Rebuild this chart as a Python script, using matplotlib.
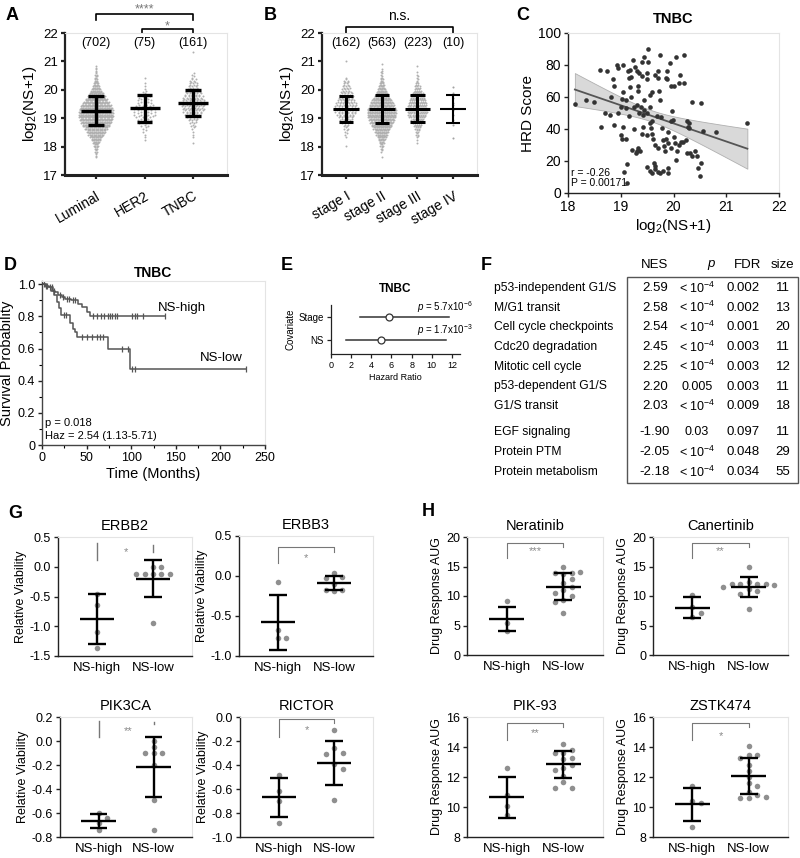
import numpy as np
import matplotlib
matplotlib.use('Agg')
import matplotlib.pyplot as plt
from matplotlib.patches import Rectangle

plt.rcParams['font.family'] = ['Liberation Sans', 'DejaVu Sans']
plt.rcParams['mathtext.fontset'] = 'custom'
plt.rcParams['mathtext.rm'] = 'Liberation Sans'
plt.rcParams['mathtext.it'] = 'Liberation Sans:italic'

# ---------------- data ----------------
# A: log2(NS+1) by subtype, counts per 0.1 bin starting at *_lo
subtypes = ['Luminal', 'HER2', 'TNBC']
subtype_n = [702, 75, 161]
subtype_lo = [17.65, 18.25, 18.15]
subtype_counts = [
    [2, 2, 3, 5, 7, 10, 14, 18, 24, 28, 34, 40, 44, 48, 50, 50, 50, 48, 44, 38,
     32, 26, 22, 17, 13, 9, 7, 5, 4, 3, 2, 2, 1],
    [1, 1, 1, 2, 2, 3, 4, 5, 6, 7, 7, 7, 6, 5, 5, 4, 3, 2, 1, 1, 1, 0, 1],
    [1, 0, 1, 1, 1, 2, 3, 4, 6, 8, 10, 12, 13, 14, 14, 13, 12, 10, 9, 7, 6, 5, 4,
     2, 2, 0, 0, 0, 0, 0, 0, 0, 1],
]
subtype_mean = [19.27, 19.35, 19.52]
subtype_sd = [0.50, 0.47, 0.46]

# B: by stage
stages = ['stage I', 'stage II', 'stage III', 'stage IV']
stage_n = [162, 563, 223, 10]
stage_lo = [18.05, 17.65, 18.15]
stage_counts = [
    [1, 0, 0, 1, 2, 2, 3, 4, 6, 8, 10, 12, 14, 16, 14, 13, 11, 10, 8, 7, 6, 5, 4,
     3, 1, 0, 0, 0, 0, 0, 1],
    [1, 0, 2, 3, 5, 7, 10, 13, 17, 21, 26, 30, 34, 37, 41, 42, 42, 41, 36, 33, 29,
     23, 18, 14, 11, 8, 6, 4, 3, 2, 2, 1, 0, 1],
    [1, 1, 2, 3, 4, 6, 8, 10, 12, 16, 18, 19, 19, 18, 17, 15, 13, 12, 8, 6, 5, 3,
     2, 2, 1, 1, 0, 1],
]
stage4_values = [20.1, 19.9, 19.7, 19.55, 19.45, 19.3, 19.1, 18.95, 18.75, 18.3]
stage_mean = [19.33, 19.32, 19.34, 19.33]
stage_sd = [0.46, 0.50, 0.48, 0.49]

# C: HRD score vs log2(NS+1) in TNBC
hrd_points = [
    (18.13, 55.6), (18.35, 58), (18.49, 57), (18.63, 41.5), (18.61, 77), (18.74, 76),
    (18.70, 50), (18.80, 49), (18.85, 71), (18.88, 67), (18.88, 42.5), (18.92, 80),
    (18.82, 60), (19.00, 36), (19.03, 34), (19.04, 80), (19.04, 63), (19.03, 58.5),
    (19.10, 58), (19.14, 76), (19.10, 33.6), (19.07, 13), (19.12, 18), (19.11, 6),
    (19.17, 77), (19.20, 72.6), (19.17, 66), (19.23, 83), (19.25, 54), (19.27, 79),
    (19.30, 76), (19.33, 67), (19.32, 64), (19.33, 28), (19.36, 26), (19.39, 53.5),
    (19.42, 49), (19.43, 41), (19.49, 74.7), (19.52, 82), (19.45, 58), (19.52, 90),
    (19.56, 53.5), (19.58, 40.5), (19.60, 37), (19.61, 33.6), (19.63, 18.7), (19.64, 15),
    (19.60, 12.5), (19.71, 71.6), (19.73, 64), (19.74, 86), (19.74, 58), (19.77, 47.7),
    (19.79, 40.5), (19.80, 33), (19.82, 29.5), (19.84, 26), (19.87, 76.5), (19.88, 71),
    (19.90, 15.5), (19.90, 12.5), (19.93, 81), (19.96, 67), (19.98, 51), (19.99, 45.6),
    (20.00, 35), (20.03, 31), (20.05, 20.7), (20.07, 26), (20.10, 69), (20.13, 73.7),
    (20.20, 86), (20.18, 32), (20.23, 33), (20.26, 25), (20.30, 40.5), (20.30, 43.6),
    (20.40, 26), (20.44, 23), (20.47, 15.5), (20.50, 10.4), (20.36, 57), (20.52, 56),
    (20.55, 38.8), (20.53, 18.7), (20.80, 38), (21.40, 44),
    (19.25, 40), (19.30, 26), (19.22, 27), (19.28, 25), (19.35, 50), (19.45, 52),
    (19.50, 50), (19.55, 44), (19.50, 36), (19.50, 16), (19.55, 14), (19.65, 17),
    (19.70, 13), (19.75, 12.5), (19.80, 14), (19.65, 30), (19.70, 28), (19.40, 37),
    (19.60, 45), (19.68, 48), (19.85, 34), (19.90, 31), (19.95, 28), (20.10, 30),
    (20.15, 32), (19.85, 72), (19.70, 76), (19.65, 74), (19.50, 71), (19.40, 73),
    (19.35, 75), (19.15, 72), (19.20, 60), (19.10, 53), (19.00, 54), (18.95, 50),
    (19.30, 55), (19.55, 61), (19.60, 63), (20.05, 85), (20.20, 69), (20.00, 67),
    (20.25, 45), (20.27, 41), (20.32, 25), (20.35, 23), (19.95, 45), (19.90, 38),
    (18.95, 78), (19.05, 41), (19.15, 48), (19.40, 82), (19.45, 85),
]

# D: Kaplan-Meier, TNBC
high_t = [3, 8, 12, 15, 18, 22, 26, 33, 40, 45, 50, 54]
high_s = [0.99, 0.98, 0.96, 0.95, 0.93, 0.92, 0.91, 0.90, 0.88, 0.86, 0.83, 0.80]
high_cens = [2, 4, 6, 9, 11, 14, 20, 24, 28, 30, 35, 37, 57.5, 61.4, 65.8, 69.5, 74.3,
             76.2, 78.8, 81.8, 84.4, 100.6, 104.3, 106.8, 113.5, 138]
low_t = [5, 10, 14, 17, 19, 21, 31, 35, 37, 39, 74, 99]
low_s = [0.98, 0.96, 0.93, 0.89, 0.85, 0.81, 0.76, 0.72, 0.70, 0.67, 0.60, 0.47]
low_cens = [25, 27, 44.5, 50.8, 55.7, 61.3, 65, 68, 89.3, 96.8, 100.5, 104.3, 229]

# E: Cox model
covariates = ['Stage', 'NS']
hr = [5.8, 5.0]
hr_lo = [2.9, 1.5]
hr_hi = [11.7, 11.4]
hr_p = [r'$p$ = 5.7x10$^{-6}$', r'$p$ = 1.7x10$^{-3}$']

# F: GSEA table
pathways = ['p53-independent G1/S', 'M/G1 transit', 'Cell cycle checkpoints',
            'Cdc20 degradation', 'Mitotic cell cycle', 'p53-dependent G1/S',
            'G1/S transit', 'EGF signaling', 'Protein PTM', 'Protein metabolism']
nes = ['2.59', '2.58', '2.54', '2.45', '2.25', '2.20', '2.03', '-1.90', '-2.05', '-2.18']
pval = ['< 10$^{-4}$'] * 5 + ['0.005', '< 10$^{-4}$', '0.03', '< 10$^{-4}$', '< 10$^{-4}$']
fdr = ['0.002', '0.002', '0.001', '0.003', '0.003', '0.003', '0.009', '0.097', '0.048', '0.034']
gsize = ['11', '13', '20', '11', '12', '11', '18', '11', '29', '55']

# G: relative viability (NS-high, NS-low)
groups = ['NS-high', 'NS-low']
erbb2 = ([-0.45, -0.65, -1.10, -1.37], [0.0, -0.01, -0.12, -0.12, -0.12, -0.12, -0.12, -0.95])
erbb3 = ([-0.08, -0.68, -0.77, -0.77], [0.04, -0.01, -0.02, -0.10, -0.17, -0.19, -0.17])
pik3ca = ([-0.60, -0.64, -0.68, -0.74], [0.0, -0.05, -0.10, -0.10, -0.10, -0.20, -0.49, -0.74])
rictor = ([-0.48, -0.62, -0.70, -0.88], [-0.11, -0.26, -0.30, -0.31, -0.39, -0.43, -0.69])
g_mean = {'ERBB2': (-0.88, -0.20), 'ERBB3': (-0.58, -0.09),
          'PIK3CA': (-0.665, -0.22), 'RICTOR': (-0.67, -0.385)}
g_sd = {'ERBB2': (0.42, 0.31), 'ERBB3': (0.34, 0.09),
        'PIK3CA': (0.06, 0.25), 'RICTOR': (0.165, 0.185)}

# H: drug response AUG
neratinib = ([9.2, 5.4, 4.0], [14.9, 13.9, 13.8, 13.9, 14.0, 12.8, 12.2, 11.5, 11.0, 10.5,
                              10.0, 9.3, 9.0, 7.2])
canertinib = ([10.2, 8.1, 7.2, 6.5], [15.0, 12.3, 12.1, 12.0, 12.0, 12.1, 11.9, 11.5, 11.2,
                                      10.8, 10.3, 7.8])
pik93 = ([12.6, 10.8, 10.1, 9.5], [14.2, 13.8, 13.6, 13.6, 13.3, 13.2, 12.8, 12.6, 12.5,
                                   12.1, 11.7, 11.3, 11.3])
zstk474 = ([11.4, 10.4, 10.3, 8.7], [14.1, 13.5, 13.5, 13.3, 12.8, 12.4, 12.0, 11.6, 11.4,
                                     11.0, 10.8, 10.6, 10.6, 10.7])
h_mean = {'Neratinib': (6.1, 11.6), 'Canertinib': (8.0, 11.55),
          'PIK-93': (10.65, 12.85), 'ZSTK474': (10.2, 12.1)}
h_sd = {'Neratinib': (2.1, 2.3), 'Canertinib': (1.8, 1.75),
        'PIK-93': (1.35, 0.9), 'ZSTK474': (1.1, 1.2)}

# ---------------- figure ----------------
W, H = 800, 858
fig = plt.figure(figsize=(8, 8.58), dpi=100)


def px_axes(l, t, r, b):
    return fig.add_axes([l / W, 1 - b / H, (r - l) / W, (b - t) / H])


def ftext(x, y, s, **kw):
    fig.text(x / W, 1 - y / H, s, **kw)


def style(ax, lw=1.2, fs=9):
    for s in ('top', 'right'):
        ax.spines[s].set_color('#e4e4e4')
        ax.spines[s].set_linewidth(0.8)
    for s in ('left', 'bottom'):
        ax.spines[s].set_color('#222222')
        ax.spines[s].set_linewidth(lw)
    ax.tick_params(labelsize=fs, length=3, width=lw, color='#222222', pad=2)


def crossbar(ax, x, m, sd, hw, cw, lw):
    kw = dict(color='black', lw=lw, solid_capstyle='butt', zorder=5)
    ax.plot([x - hw, x + hw], [m, m], **kw)
    ax.plot([x, x], [m - sd, m + sd], **kw)
    for yy in (m - sd, m + sd):
        ax.plot([x - cw, x + cw], [yy, yy], **kw)


def bin_swarm(ax, xc, lo, counts, dx):
    xs, ys = [], []
    for k, n in enumerate(counts):
        yc = lo + 0.1 * k
        for i in range(n):
            xs.append(xc + (i - (n - 1) / 2) * dx)
            ys.append(yc + (0.025 if i % 2 else -0.025))
    ax.scatter(xs, ys, s=2.0, color='#b0b0b0', linewidths=0, zorder=2)


def swarm_x(vals, center, dy, dx):
    placed, xs = [], []
    for v in vals:
        k = 0
        while True:
            off = 0 if k == 0 else ((k + 1) // 2) * dx * (1 if k % 2 else -1)
            if all(abs(v - pv) >= dy or abs(off - po) >= dx * 0.99 for pv, po in placed):
                break
            k += 1
        placed.append((v, off))
        xs.append(center + off)
    return xs


# ---- A ----
axA = px_axes(65, 33, 227, 175)
style(axA, lw=1.6, fs=9.5)
axA.spines['bottom'].set_linewidth(2.2)
for i in range(3):
    bin_swarm(axA, i, subtype_lo[i], subtype_counts[i], [0.014, 0.07, 0.036][i])
    crossbar(axA, i, subtype_mean[i], subtype_sd[i], 0.31, 0.16, 2.4)
    axA.text(i, 21.65, f'({subtype_n[i]})', ha='center', va='center', fontsize=9)
axA.set_xlim(-0.64, 2.7)
axA.set_ylim(17, 22)
axA.set_yticks(range(17, 23))
axA.set_xticks(range(3))
axA.set_xticklabels(subtypes, rotation=30, ha='right', rotation_mode='anchor', fontsize=10)
axA.tick_params(axis='x', pad=7)
axA.set_ylabel(r'log$_2$(NS+1)', fontsize=11, labelpad=3)
axA.plot([0, 0, 2, 2], [22.46, 22.67, 22.67, 22.46], color='black', lw=1.2, clip_on=False)
axA.plot([0.95, 0.95, 2, 2], [22.0, 22.14, 22.14, 22.0], color='black', lw=1.2, clip_on=False)
axA.text(1, 22.82, '****', ha='center', va='center', fontsize=9, color='#777777')
axA.text(1.47, 22.22, '*', ha='center', va='center', fontsize=9, color='#777777')

# ---- B ----
axB = px_axes(322, 33, 477, 175)
style(axB, lw=1.6, fs=9.5)
axB.spines['bottom'].set_linewidth(2.2)
for i in range(3):
    bin_swarm(axB, i, stage_lo[i], stage_counts[i], [0.045, 0.019, 0.03][i])
axB.scatter([3] * len(stage4_values), stage4_values, s=2.2, color='#a3a3a3', linewidths=0)
for i in range(4):
    crossbar(axB, i, stage_mean[i], stage_sd[i], 0.36, 0.2, 2.2 if i < 3 else 1.5)
    axB.text(i, 21.65, f'({stage_n[i]})', ha='center', va='center', fontsize=9)
axB.set_xlim(-0.67, 3.67)
axB.set_ylim(17, 22)
axB.set_yticks(range(17, 23))
axB.set_xticks(range(4))
axB.set_xticklabels(stages, rotation=30, ha='right', rotation_mode='anchor', fontsize=10)
axB.tick_params(axis='x', pad=7)
axB.set_ylabel(r'log$_2$(NS+1)', fontsize=11, labelpad=3)
axB.plot([0, 0, 3, 3], [22.0, 22.21, 22.21, 22.0], color='black', lw=1.2, clip_on=False)
axB.text(1.5, 22.6, 'n.s.', ha='center', va='center', fontsize=10)

# ---- C ----
axC = px_axes(568, 33, 779, 193)
style(axC, lw=1.0, fs=10)
hx, hy = np.array(hrd_points).T
slope, icpt = np.polyfit(hx, hy, 1)
n = len(hx)
res = hy - (slope * hx + icpt)
s_res = np.sqrt(np.sum(res ** 2) / (n - 2))
gx = np.linspace(hx.min(), hx.max(), 100)
gfit = slope * gx + icpt
se = s_res * np.sqrt(1 / n + (gx - hx.mean()) ** 2 / np.sum((hx - hx.mean()) ** 2))
axC.fill_between(gx, gfit - 1.98 * se, gfit + 1.98 * se, facecolor='#d9d9d9',
                 edgecolor='#b0b0b0', lw=0.6, zorder=1)
axC.plot(gx, gfit, color='#555555', lw=1.3, zorder=2)
axC.scatter(hx, hy, s=11, color='#333333', linewidths=0, zorder=3)
axC.set_xlim(18, 22)
axC.set_ylim(0, 100)
axC.set_xticks(range(18, 23))
axC.set_yticks(range(0, 101, 20))
axC.set_title('TNBC', fontsize=10.5, fontweight='bold', pad=7)
axC.set_xlabel(r'log$_2$(NS+1)', fontsize=11, labelpad=2)
axC.set_ylabel('HRD Score', fontsize=11, labelpad=2)
axC.text(18.05, 12.5, 'r = -0.26', fontsize=7.5, va='center')
axC.text(18.05, 6.3, 'P = 0.00171', fontsize=7.5, va='center')

# ---- D ----
axD = px_axes(42, 281, 265, 445)
style(axD, lw=1.0, fs=9)
for s in ('left', 'bottom'):
    axD.spines[s].set_color('#444444')


def km_line(t, s, end):
    axD.step(np.r_[0, t, end], np.r_[1.0, s, s[-1]], where='post', color='#555555', lw=1.1)


def km_cens(t, s, cens):
    vals = np.r_[1.0, s][np.searchsorted(t, cens, side='right')]
    axD.plot(cens, vals, ls='none', marker='|', ms=5, mew=0.9, color='#555555')


km_line(high_t, high_s, high_cens[-1])
km_line(low_t, low_s, low_cens[-1])
km_cens(high_t, high_s, high_cens)
km_cens(low_t, low_s, low_cens)
axD.set_xlim(0, 250)
axD.set_ylim(0, 1.02)
axD.set_xticks(range(0, 251, 50))
axD.set_xticks(range(25, 250, 50), minor=True)
axD.set_yticks([0, 0.2, 0.4, 0.6, 0.8, 1.0])
axD.set_yticklabels(['0', '0.2', '0.4', '0.6', '0.8', '1.0'])
axD.set_yticks(np.arange(0.1, 1.0, 0.2), minor=True)
axD.tick_params(which='minor', length=2, width=0.8)
axD.set_title('TNBC', fontsize=10, fontweight='bold', pad=3)
axD.set_xlabel('Time (Months)', fontsize=10.5, labelpad=2)
axD.set_ylabel('Survival Probability', fontsize=10.5, labelpad=3)
axD.text(130, 0.855, 'NS-high', fontsize=9.5, va='center')
axD.text(177, 0.54, 'NS-low', fontsize=9.5, va='center')
axD.text(3, 0.137, 'p = 0.018', fontsize=8, va='center')
axD.text(3, 0.056, 'Haz = 2.54 (1.13-5.71)', fontsize=8, va='center')

# ---- E ----
axE = px_axes(331, 305, 460, 354)
style(axE, lw=0.9, fs=6.5)
axE.spines['top'].set_visible(False)
axE.spines['right'].set_visible(False)
for i, name in enumerate(covariates):
    yy = 1 - i
    axE.plot([hr_lo[i], hr_hi[i]], [yy, yy], color='#333333', lw=1.1)
    axE.plot(hr[i], yy, 'o', mfc='white', mec='#333333', ms=5, mew=0.9)
    axE.text(8.5, yy + 0.42, hr_p[i], fontsize=7, va='center')
axE.set_xlim(0, 12.8)
axE.set_ylim(-0.6, 1.5)
axE.set_xticks(range(0, 13, 2))
axE.set_yticks([1, 0])
axE.set_yticklabels(covariates, fontsize=7)
axE.set_title('TNBC', fontsize=8.5, fontweight='bold', pad=9)
axE.set_xlabel('Hazard Ratio', fontsize=6.5, labelpad=2)
axE.set_ylabel('Covariate', fontsize=7, labelpad=2)

# ---- F ----
ftext(655, 265, 'NES', ha='center', va='center', fontsize=9.5)
ftext(712, 265, r'$p$', ha='center', va='center', fontsize=9.5)
ftext(748, 265, 'FDR', ha='center', va='center', fontsize=9.5)
ftext(782, 265, 'size', ha='center', va='center', fontsize=9.5)
row_y = [288 + 19.7 * i for i in range(7)] + [432 + 20 * j for j in range(3)]
for i, name in enumerate(pathways):
    y = row_y[i]
    ftext(494, y, name, ha='left', va='center', fontsize=8.7)
    ftext(655, y, nes[i], ha='center', va='center', fontsize=9.5)
    ftext(697, y, pval[i], ha='center', va='center', fontsize=9)
    ftext(743, y, fdr[i], ha='center', va='center', fontsize=9.5)
    ftext(783, y, gsize[i], ha='center', va='center', fontsize=9.5)
fig.add_artist(Rectangle((627 / W, 1 - 483 / H), 171 / W, 206 / H, transform=fig.transFigure,
                         fill=False, edgecolor='#555555', lw=1.0))

# ---- G / H ----
panels = [
    ('ERBB2', erbb2, g_mean, g_sd, (58, 537, 192, 656), (-1.5, 0.5), [0.5, 0.0, -0.5, -1.0, -1.5],
     '{:.1f}', 'Relative Viability', ('broken', 0.40, 0.11, 0.37, 0.25, 0.52, 0.24, '*')),
    ('ERBB3', erbb3, g_mean, g_sd, (239, 536, 373, 656), (-1.0, 0.5), [0.5, 0.0, -0.5, -1.0],
     '{:.1f}', 'Relative Viability', ('full', 0.36, 0.16, 0.30, None, 0.5, 0.23, '*')),
    ('PIK3CA', pik3ca, g_mean, g_sd, (60, 717, 192, 837), (-0.8, 0.2),
     [0.2, 0.0, -0.2, -0.4, -0.6, -0.8], '{:.1f}', 'Relative Viability',
     ('broken', 0.17, 0.03, 0.16, 0.14, 0.54, 0.085, '**')),
    ('RICTOR', rictor, g_mean, g_sd, (240, 717, 373, 837), (-1.0, 0.0),
     [0.0, -0.2, -0.4, -0.6, -0.8, -1.0], '{:.1f}', 'Relative Viability',
     ('full', -0.02, -0.17, -0.05, None, 0.5, -0.105, '*')),
    ('Neratinib', neratinib, h_mean, h_sd, (467, 537, 603, 655), (0, 20), [0, 5, 10, 15, 20],
     '{:.0f}', 'Drug Response AUG', ('full', 19.0, 16.4, 18.3, None, 0.5, 17.6, '***')),
    ('Canertinib', canertinib, h_mean, h_sd, (653, 537, 788, 655), (0, 20), [0, 5, 10, 15, 20],
     '{:.0f}', 'Drug Response AUG', ('full', 19.0, 16.4, 18.3, None, 0.5, 17.6, '**')),
    ('PIK-93', pik93, h_mean, h_sd, (467, 717, 603, 837), (8, 16), [8, 10, 12, 14, 16],
     '{:.0f}', 'Drug Response AUG', ('full', 15.6, 14.47, 15.33, None, 0.5, 14.93, '**')),
    ('ZSTK474', zstk474, h_mean, h_sd, (653, 717, 788, 837), (8, 16), [8, 10, 12, 14, 16],
     '{:.0f}', 'Drug Response AUG', ('full', 15.6, 14.5, 15.33, None, 0.5, 14.75, '*')),
]

for title, data, means, sds, (l, t, r_, b), ylim, ticks, fmt, ylab, br in panels:
    ax = px_axes(l, t, r_, b)
    style(ax, lw=1.0, fs=9)
    ppu = (b - t) / (ylim[1] - ylim[0])
    for gi, vals in enumerate(data):
        xs = swarm_x(vals, gi, 6.0 / ppu, 0.15)
        ax.scatter(xs, vals, s=16, color='#8f8f8f', linewidths=0, zorder=3)
        crossbar(ax, gi, means[title][gi], sds[title][gi], 0.31, 0.16, 1.7)
    kind, ytop, yleft, yright, yright2, xs_, ystar, stars = br
    if kind == 'full':
        ax.plot([0, 0, 1, 1], [yleft, ytop, ytop, yright], color='#777777', lw=0.8)
    else:
        ax.plot([0, 0], [ytop, yleft], color='#777777', lw=1.0)
        ax.plot([1, 1], [yright, yright2], color='#777777', lw=1.0)
    ax.text(xs_, ystar, stars, ha='center', va='center', fontsize=8, color='#888888')
    ax.set_xlim(-0.7, 1.7)
    ax.set_ylim(*ylim)
    ax.set_yticks(ticks)
    ax.set_yticklabels([fmt.format(v) for v in ticks])
    ax.set_xticks([0, 1])
    ax.set_xticklabels(groups, fontsize=9.5)
    ax.tick_params(axis='x', length=0, pad=4)
    ax.set_title(title, fontsize=10.5, pad=5)
    ax.set_ylabel(ylab, fontsize=9, labelpad=2)

# ---- panel letters ----
for letter, x, y in [('A', 12, 15), ('B', 270, 15), ('C', 523, 15), ('D', 10, 265),
                     ('E', 287, 265), ('F', 486, 265), ('G', 15, 513), ('H', 428, 512)]:
    ftext(x, y, letter, ha='center', va='center', fontsize=13, fontweight='bold')

fig.savefig('out.png', dpi=100)
